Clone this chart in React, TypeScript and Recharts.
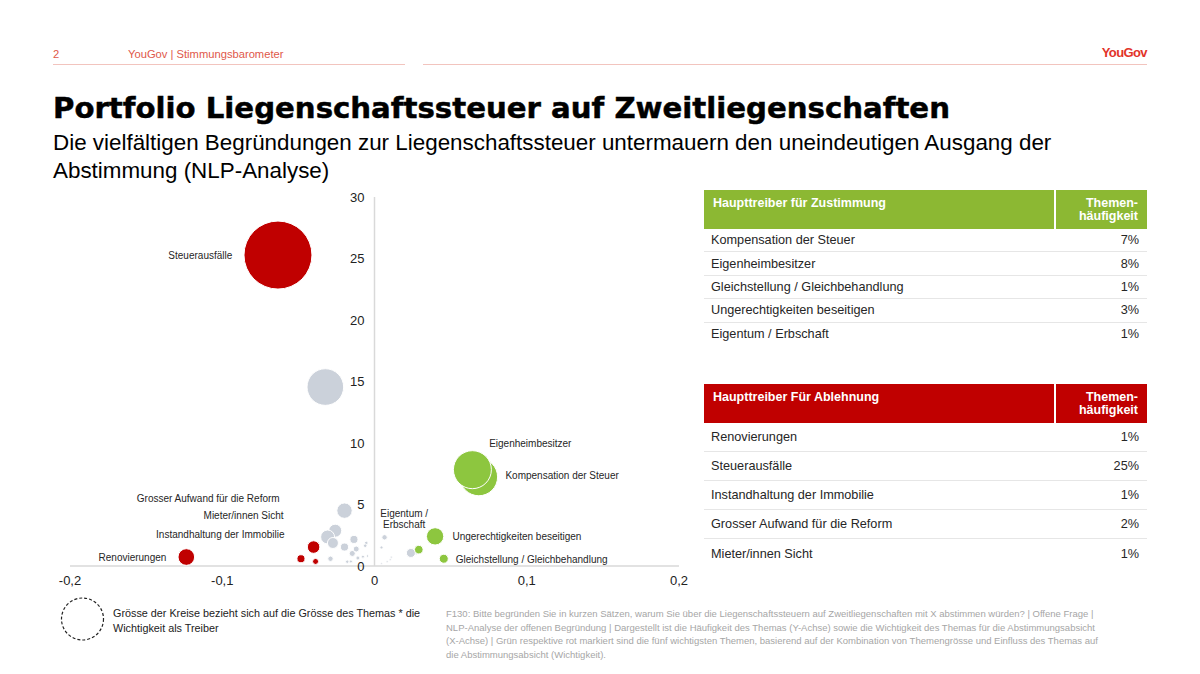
import React from 'react';
import { ScatterChart, Scatter, XAxis, YAxis, ZAxis, ReferenceLine } from 'recharts';

// ---- chart data ----
const xTicks = [-0.2, -0.1, 0, 0.1, 0.2];
const yTicks = [0, 5, 10, 15, 20, 25, 30];

const grayBubbles = [
  { x: -0.0323, y: 14.55, z: 29 },
  { x: -0.0197, y: 4.5, z: 5.1 },
  { x: -0.0258, y: 2.87, z: 3.65 },
  { x: -0.0308, y: 2.36, z: 4.2 },
  { x: -0.0273, y: 1.87, z: 2.6 },
  { x: -0.0197, y: 1.54, z: 1.4 },
  { x: -0.0135, y: 2.16, z: 1.4 },
  { x: -0.0146, y: 1.02, z: 0.78 },
  { x: -0.012, y: 1.38, z: 0.78 },
  { x: -0.0289, y: 0.59, z: 0.63 },
  { x: -0.0179, y: 0.35, z: 0.25 },
  { x: -0.0155, y: 0.37, z: 0.2 },
  { x: -0.0109, y: 0.65, z: 0.35 },
  { x: -0.0076, y: 0.76, z: 0.2 },
  { x: -0.0054, y: 1.87, z: 0.28 },
  { x: -0.0061, y: 1.65, z: 0.28 },
  { x: -0.0046, y: 0.81, z: 0.12 },
  { x: 0.0066, y: 2.33, z: 0.63 },
  { x: 0.0046, y: 1.51, z: 0.2 },
  { x: 0.0274, y: 1.19, z: 1.06 },
  { x: 0.0239, y: 1.06, z: 1.75 },
  { x: 0.0083, y: 0.35, z: 0.09 },
  { x: 0.0103, y: 0.51, z: 0.09 },
  { x: 0.011, y: 0.72, z: 0.09 },
  { x: 0.0046, y: 0.19, z: 0.06 },
];

const redBubbles = [
  { x: -0.0634, y: 25.28, z: 100 },
  { x: -0.1236, y: 0.73, z: 6.0 },
  { x: -0.04, y: 1.54, z: 3.4 },
  { x: -0.0483, y: 0.59, z: 1.4 },
  { x: -0.0387, y: 0.37, z: 0.78 },
];

const greenBubbles = [
  { x: 0.0685, y: 7.24, z: 30.6 },
  { x: 0.0643, y: 7.83, z: 31.2 },
  { x: 0.0398, y: 2.41, z: 6.5 },
  { x: 0.0455, y: 0.59, z: 1.75 },
  { x: 0.0291, y: 1.33, z: 1.6 },
];

const bubbleLabels = [
  { x: -0.0934, y: 25.25, text: ['Steuerausfälle'], anchor: 'end' },
  { x: 0.0753, y: 9.94, text: ['Eigenheimbesitzer'], anchor: 'start' },
  { x: 0.086, y: 7.34, text: ['Kompensation der Steuer'], anchor: 'start' },
  { x: 0.0195, y: 4.23, text: ['Eigentum /', 'Erbschaft'], anchor: 'middle' },
  { x: 0.0512, y: 2.38, text: ['Ungerechtigkeiten beseitigen'], anchor: 'start' },
  { x: 0.0534, y: 0.51, text: ['Gleichstellung / Gleichbehandlung'], anchor: 'start' },
  { x: -0.0623, y: 5.47, text: ['Grosser Aufwand für die Reform'], anchor: 'end' },
  { x: -0.0597, y: 4.09, text: ['Mieter/innen Sicht'], anchor: 'end' },
  { x: -0.0591, y: 2.57, text: ['Instandhaltung der Immobilie'], anchor: 'end' },
  { x: -0.1367, y: 0.7, text: ['Renovierungen'], anchor: 'end' },
];

const yTickLabels = yTicks.map((t) => ({ x: 0, y: t, label: String(t) }));

// ---- tables ----
const proLabels = [
  'Kompensation der Steuer',
  'Eigenheimbesitzer',
  'Gleichstellung / Gleichbehandlung',
  'Ungerechtigkeiten beseitigen',
  'Eigentum / Erbschaft',
];
const proValues = ['7%', '8%', '1%', '3%', '1%'];

const contraLabels = [
  'Renovierungen',
  'Steuerausfälle',
  'Instandhaltung der Immobilie',
  'Grosser Aufwand für die Reform',
  'Mieter/innen Sicht',
];
const contraValues = ['1%', '25%', '1%', '2%', '1%'];

const footnoteLines = [
  'F130: Bitte begründen Sie in kurzen Sätzen, warum Sie über die Liegenschaftssteuern auf Zweitliegenschaften mit X abstimmen würden? | Offene Frage |',
  'NLP-Analyse der offenen Begründung | Dargestellt ist die Häufigkeit des Themas (Y-Achse) sowie die Wichtigkeit des Themas für die Abstimmungsabsicht',
  '(X-Achse) | Grün respektive rot markiert sind die fünf wichtigsten Themen, basierend auf der Kombination von Themengrösse und Einfluss des Themas auf',
  'die Abstimmungsabsicht (Wichtigkeit).',
];

const RED = '#c00000';
const GREEN_BUBBLE = '#8dc63f';
const GREEN_HEAD = '#8cb833';
const GRAY_BUBBLE = '#cbd1da';
const FONT = '"Liberation Sans", Arial, sans-serif';

const fmtX = (v: number) => (v === 0 ? '0' : v.toFixed(1).replace('.', ','));

const LabelShape = (props: any) => {
  const { cx, cy, payload } = props;
  const lines: string[] = payload.text;
  return (
    <text x={cx} y={cy} textAnchor={payload.anchor} fontSize={10} fill="#262626" fontFamily={FONT}>
      {lines.map((l, i) => (
        <tspan key={i} x={cx} dy={i === 0 ? '0.35em' : '1.1em'}>
          {l}
        </tspan>
      ))}
    </text>
  );
};

const YTickShape = (props: any) => {
  const { cx, cy, payload } = props;
  return (
    <text x={cx - 10} y={cy} dy="0.35em" textAnchor="end" fontSize={13} fill="#222" fontFamily={FONT}>
      {payload.label}
    </text>
  );
};

type TableProps = {
  top: number;
  color: string;
  title: string;
  labels: string[];
  values: string[];
  rowH: number;
};

const DriverTable = ({ top, color, title, labels, values, rowH }: TableProps) => (
  <div style={{ position: 'absolute', left: 704, top, width: 443 }}>
    <div style={{ display: 'flex', height: 39 }}>
      <div
        style={{
          width: 350,
          background: color,
          color: '#fff',
          fontWeight: 700,
          fontSize: 12.5,
          lineHeight: '13px',
          padding: '7px 0 0 9px',
          boxSizing: 'border-box',
        }}
      >
        {title}
      </div>
      <div style={{ width: 1.5, background: '#fff' }} />
      <div
        style={{
          flex: 1,
          background: color,
          color: '#fff',
          fontWeight: 700,
          fontSize: 12.5,
          lineHeight: '13px',
          padding: '7px 9px 0 0',
          textAlign: 'right',
          boxSizing: 'border-box',
        }}
      >
        Themen-
        <br />
        häufigkeit
      </div>
    </div>
    {labels.map((l, i) => (
      <div
        key={l}
        style={{
          display: 'flex',
          justifyContent: 'space-between',
          alignItems: 'center',
          height: rowH,
          boxSizing: 'border-box',
          borderBottom: i < labels.length - 1 ? '1px solid #e6e6e6' : 'none',
          fontSize: 12.7,
          color: '#262626',
          padding: '0 8px 0 7px',
        }}
      >
        <span>{l}</span>
        <span>{values[i]}</span>
      </div>
    ))}
  </div>
);

export default function App() {
  return (
    <div
      style={{
        position: 'absolute',
        left: 0,
        top: 0,
        width: 1200,
        height: 674,
        overflow: 'hidden',
        background: '#fff',
        fontFamily: FONT,
      }}
    >
      {/* header */}
      <div style={{ position: 'absolute', left: 53, top: 47, fontSize: 11.2, lineHeight: '14px', color: '#e0584a' }}>2</div>
      <div style={{ position: 'absolute', left: 128, top: 47, fontSize: 11.2, lineHeight: '14px', color: '#e0584a' }}>
        YouGov | Stimmungsbarometer
      </div>
      <div style={{ position: 'absolute', left: 53, top: 63.5, width: 352, height: 1.5, background: '#f2c4be' }} />
      <div style={{ position: 'absolute', left: 423, top: 63.5, width: 724, height: 1.5, background: '#f2c4be' }} />
      <div
        style={{
          position: 'absolute',
          right: 53,
          top: 45,
          fontSize: 13,
          lineHeight: '16px',
          fontWeight: 700,
          color: '#e2342a',
          letterSpacing: -0.6,
        }}
      >
        YouGov
      </div>

      {/* title */}
      <div
        style={{
          position: 'absolute',
          left: 53,
          top: 91,
          fontFamily: '"DejaVu Sans", sans-serif',
          fontWeight: 700,
          fontSize: 29.2,
          lineHeight: '34px',
          color: '#000',
          WebkitTextStroke: '0.5px #000',
          whiteSpace: 'nowrap',
        }}
      >
        Portfolio Liegenschaftssteuer auf Zweitliegenschaften
      </div>
      <div
        style={{
          position: 'absolute',
          left: 53,
          top: 129,
          fontSize: 22.4,
          lineHeight: '28px',
          color: '#000',
          whiteSpace: 'nowrap',
        }}
      >
        Die vielfältigen Begründungen zur Liegenschaftssteuer untermauern den uneindeutigen Ausgang der
        <br />
        Abstimmung (NLP-Analyse)
      </div>

      {/* chart */}
      <div style={{ position: 'absolute', left: 40, top: 180 }}>
        <ScatterChart width={660} height={420} margin={{ top: 17, right: 21, bottom: 4, left: 30 }}>
          <XAxis
            type="number"
            dataKey="x"
            domain={[-0.2, 0.2]}
            ticks={xTicks}
            tickFormatter={fmtX}
            height={30}
            tickMargin={4}
            axisLine={{ stroke: '#d9d9d9', strokeWidth: 1.5 }}
            tickLine={false}
            tick={{ fontSize: 13, fill: '#222', fontFamily: FONT }}
          />
          <YAxis type="number" dataKey="y" domain={[0, 30]} ticks={yTicks} hide />
          <ZAxis type="number" dataKey="z" domain={[0, 100]} range={[0, 3632]} />
          <ReferenceLine x={0} stroke="#d9d9d9" strokeWidth={1.5} />
          <Scatter data={yTickLabels} shape={YTickShape} isAnimationActive={false} legendType="none" />
          <Scatter data={grayBubbles} fill={GRAY_BUBBLE} stroke="#fff" strokeWidth={1} isAnimationActive={false} />
          <Scatter data={redBubbles} fill={RED} stroke="#fff" strokeWidth={1} isAnimationActive={false} />
          <Scatter data={greenBubbles} fill={GREEN_BUBBLE} stroke="#fff" strokeWidth={1} isAnimationActive={false} />
          <Scatter data={bubbleLabels} shape={LabelShape} isAnimationActive={false} legendType="none" />
        </ScatterChart>
      </div>

      {/* tables */}
      <DriverTable top={190} color={GREEN_HEAD} title="Haupttreiber für Zustimmung" labels={proLabels} values={proValues} rowH={23.4} />
      <DriverTable top={384} color={RED} title="Haupttreiber Für Ablehnung" labels={contraLabels} values={contraValues} rowH={29} />

      {/* size legend */}
      <svg style={{ position: 'absolute', left: 58, top: 594 }} width={50} height={50}>
        <circle cx={24.5} cy={25} r={21} fill="none" stroke="#222" strokeWidth={1.2} strokeDasharray="3 2" />
      </svg>
      <div style={{ position: 'absolute', left: 113, top: 606, fontSize: 10.8, lineHeight: '15px', color: '#222', whiteSpace: 'nowrap' }}>
        Grösse der Kreise bezieht sich auf die Grösse des Themas * die
        <br />
        Wichtigkeit als Treiber
      </div>

      {/* footnote */}
      <div style={{ position: 'absolute', left: 446, top: 607, fontSize: 9.5, lineHeight: '13.5px', color: '#a6a6a6', whiteSpace: 'nowrap' }}>
        {footnoteLines.map((l, i) => (
          <div key={i}>{l}</div>
        ))}
      </div>
    </div>
  );
}
